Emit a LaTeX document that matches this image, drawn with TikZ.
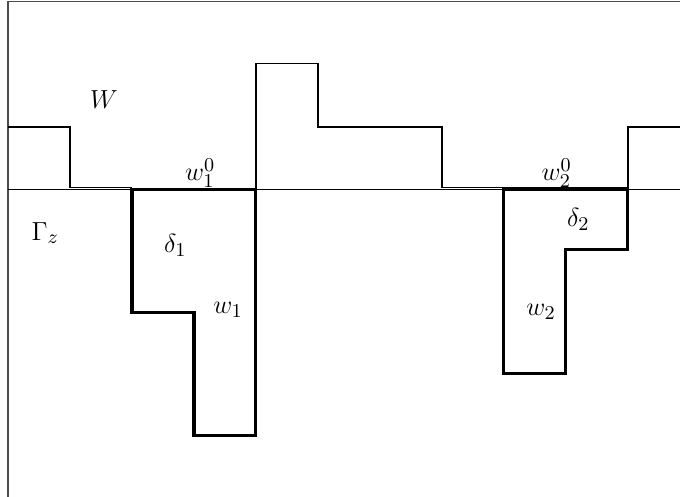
\documentclass[tikz,border=0pt]{standalone}
\begin{document}
\begin{tikzpicture}[x=1cm,y=1cm,
  thinline/.style={line width=0.6pt},
  thickline/.style={line width=1.4pt},
  framel/.style={line width=0.5pt, black!70},
  lbl/.style={inner sep=0pt, font=\fontsize{13}{15}\selectfont}]
\useasboundingbox (-0.129,3.06) rectangle (10.84,-4.95);
% frame (top and left)
\draw[framel] (10.84,3.03) -- (0,3.03) -- (0,-4.95);
% axis Gamma_z
\draw[thinline] (0,0) -- (10.84,0);
% W
\draw[thinline] (0,1.01) -- (1,1.01) -- (1,0.04) -- (2,0.04);
\draw[thinline] (4,0) -- (4,2.03) -- (5,2.03) -- (5,1.01) -- (7,1.01) -- (7,0.04) -- (10,0.04) -- (10,1.01) -- (10.84,1.01);
% w1
\draw[thickline, line join=miter] (2,0) -- (4,0) -- (4,-3.97) -- (3,-3.97) -- (3,-1.98) -- (2,-1.98) -- cycle;
% w2
\draw[thickline, line join=miter] (8,0) -- (10,0) -- (10,-0.97) -- (9,-0.97) -- (9,-2.97) -- (8,-2.97) -- cycle;
% labels
\node[lbl] (W) at (1.55,1.45) {$W$};
\node[lbl] (w10) at (3.1,0.27) {$w_1^0$};
\node[lbl] (d1) at (2.7,-0.9) {$\delta_1$};
\node[lbl] (w1) at (3.55,-1.94) {$w_1$};
\node[lbl] (G) at (0.6,-0.7) {$\Gamma_z$};
\node[lbl] (w20) at (8.85,0.27) {$w_2^0$};
\node[lbl] (d2) at (9.2,-0.48) {$\delta_2$};
\node[lbl] (w2) at (8.6,-1.97) {$w_2$};
\end{tikzpicture}
\end{document}
